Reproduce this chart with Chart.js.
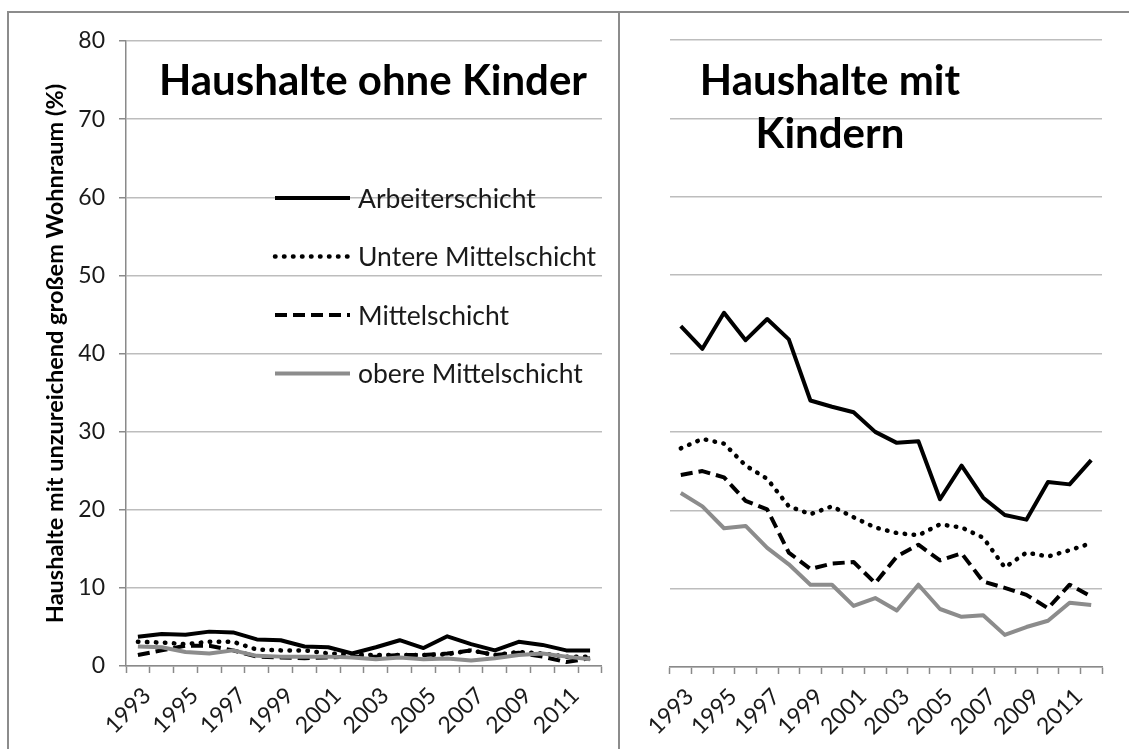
<!DOCTYPE html>
<html lang="de">
<head>
<meta charset="utf-8">
<title>Haushalte mit unzureichend großem Wohnraum</title>
<script src="https://cdn.jsdelivr.net/npm/chart.js@4.4.1/dist/chart.umd.min.js"></script>
<style>
  body { margin: 0; background: #fff; }
  #frame { position: relative; width: 1129px; height: 749px; overflow: hidden; background: #fff; }
  #frame canvas { position: absolute; }
  #frame .rule { position: absolute; background: #8c8c8c; }
</style>
</head>
<body>
<div id="frame">
  <canvas id="ohneChart" width="610" height="736" style="left:9px;top:13px"></canvas>
  <canvas id="mitChart" width="508" height="736" style="left:621px;top:13px"></canvas>
  <div class="rule" style="left:7px;top:11px;width:1122px;height:2px"></div>
  <div class="rule" style="left:7px;top:11px;width:2px;height:738px"></div>
  <div class="rule" style="left:618px;top:11px;width:2px;height:738px"></div>
</div>

<script>
// ======================================
// Data
// ======================================

const YEARS = [
  "1993", "1994", "1995", "1996", "1997", "1998", "1999", "2000", "2001", "2002",
  "2003", "2004", "2005", "2006", "2007", "2008", "2009", "2010", "2011", "2012",
];

const SERIES_NAMES = ["Arbeiterschicht", "Untere Mittelschicht", "Mittelschicht", "obere Mittelschicht"];

// Haushalte ohne Kinder
const OHNE_ARBEITER = [3.75, 4.1, 4.0, 4.4, 4.3, 3.4, 3.3, 2.5, 2.4, 1.6, 2.4, 3.3, 2.3, 3.8, 2.8, 2.0, 3.1, 2.7, 2.0, 2.0];
const OHNE_UNTERE = [3.1, 3.0, 2.8, 3.1, 3.1, 2.1, 2.0, 2.0, 1.6, 1.5, 1.4, 1.4, 1.4, 1.5, 2.0, 1.4, 1.8, 1.6, 1.2, 1.2];
const OHNE_MITTEL = [1.4, 2.0, 2.6, 2.6, 2.0, 1.2, 1.1, 1.0, 1.1, 1.2, 1.2, 1.4, 1.4, 1.6, 2.0, 1.4, 1.7, 1.2, 0.5, 1.0];
const OHNE_OBERE = [2.5, 2.4, 1.8, 1.6, 2.0, 1.3, 1.2, 1.2, 1.2, 1.1, 0.85, 1.1, 0.85, 0.95, 0.7, 1.0, 1.4, 1.6, 1.2, 0.85];

// Haushalte mit Kindern
const MIT_ARBEITER = [43.5, 40.6, 45.2, 41.7, 44.4, 41.8, 34.0, 33.2, 32.5, 30.0, 28.6, 28.8, 21.4, 25.7, 21.6, 19.4, 18.8, 23.6, 23.3, 26.4];
const MIT_UNTERE = [27.9, 29.1, 28.5, 25.7, 24.0, 20.5, 19.5, 20.5, 19.1, 17.8, 17.1, 16.8, 18.2, 17.8, 16.5, 12.7, 14.6, 14.1, 14.9, 15.8];
const MIT_MITTEL = [24.5, 25.0, 24.2, 21.2, 20.1, 14.6, 12.5, 13.2, 13.4, 10.7, 14.1, 15.6, 13.6, 14.5, 10.9, 10.1, 9.2, 7.5, 10.5, 9.0];
const MIT_OBERE = [22.2, 20.5, 17.7, 18.0, 15.2, 13.1, 10.5, 10.5, 7.8, 8.8, 7.2, 10.5, 7.4, 6.4, 6.6, 4.1, 5.1, 5.9, 8.2, 7.9];

const Y_MIN = 0;
const Y_MAX = 80;
const Y_STEP = 10;

const Y_TITLE = "Haushalte mit unzureichend großem Wohnraum (%)";
const TITLE_OHNE = ["Haushalte ohne Kinder"];
const TITLE_MIT = ["Haushalte mit", "Kindern"];

// ======================================
// Styles
// ======================================

const LINE_STYLES = [
  { borderColor: "#000000", borderWidth: 4, borderDash: [], borderCapStyle: "butt" },
  { borderColor: "#000000", borderWidth: 4.5, borderDash: [0.5, 8.5], borderCapStyle: "round" },
  { borderColor: "#000000", borderWidth: 4, borderDash: [12, 6], borderCapStyle: "butt" },
  { borderColor: "#8c8c8c", borderWidth: 4, borderDash: [], borderCapStyle: "butt" },
];

const GRID_COLOR = "#bdbdbd";
const AXIS_COLOR = "#8a8a8a";
const TEXT_COLOR = "#1a1a1a";
const TICK_FONT = { size: 23 };

Chart.defaults.font.family = "Lato";

// ======================================
// Panel text plugin (titles + legend)
// ======================================

const panelTextPlugin = {
  id: "panelText",

  afterDraw(chart, args, opts) {
    const ctx = chart.ctx;

    ctx.save();

    ctx.fillStyle = "#000";
    ctx.font = "bold 42px Lato";
    ctx.textAlign = "center";
    ctx.textBaseline = "alphabetic";

    opts.title.forEach((line, i) => {
      ctx.fillText(line, opts.titleX, opts.titleY + i * opts.titleGap);
    });

    if (opts.legend) {
      const lg = opts.legend;

      chart.data.datasets.forEach((ds, i) => {
        const y = lg.y + i * lg.gap;

        ctx.beginPath();
        ctx.strokeStyle = ds.borderColor;
        ctx.lineWidth = ds.borderWidth;
        ctx.lineCap = ds.borderCapStyle;
        ctx.setLineDash(ds.borderDash);
        ctx.moveTo(lg.x, y);
        ctx.lineTo(lg.x + lg.sample, y);
        ctx.stroke();

        ctx.setLineDash([]);
        ctx.fillStyle = TEXT_COLOR;
        ctx.font = "26.5px Lato";
        ctx.textAlign = "left";
        ctx.fillText(ds.label, lg.x + lg.sample + lg.textGap, y + 9.5);
      });
    }

    ctx.restore();
  },
};

// ======================================
// Charts Controller
// ======================================

const Charts = {
  buildDatasets(seriesList) {
    return seriesList.map((values, i) => ({
      label: SERIES_NAMES[i],
      data: values,
      ...LINE_STYLES[i],
      borderJoinStyle: "round",
      pointRadius: 0,
      tension: 0,
      fill: false,
      order: seriesList.length - i,
    }));
  },

  xScale(height) {
    return {
      offset: true,
      grid: {
        offset: true,
        drawOnChartArea: false,
        drawTicks: true,
        tickLength: 7,
        tickColor: AXIS_COLOR,
        tickWidth: 1.5,
      },
      border: { display: true, color: AXIS_COLOR, width: 1.5 },
      ticks: {
        autoSkip: false,
        minRotation: 45,
        maxRotation: 45,
        padding: 9,
        labelOffset: 9,
        color: TEXT_COLOR,
        font: TICK_FONT,
        callback: (value, index) => (index % 2 === 0 ? YEARS[index] : ""),
      },
      afterFit: (scale) => {
        scale.height = height;
      },
    };
  },

  renderOhne() {
    const canvas = document.getElementById("ohneChart");

    new Chart(canvas, {
      type: "line",
      data: {
        labels: YEARS,
        datasets: Charts.buildDatasets([OHNE_ARBEITER, OHNE_UNTERE, OHNE_MITTEL, OHNE_OBERE]),
      },
      options: {
        responsive: false,
        animation: false,
        layout: { padding: { top: 28, right: 16, bottom: 0, left: 0 } },
        plugins: {
          legend: { display: false },
          tooltip: { enabled: false },
          panelText: {
            title: TITLE_OHNE,
            titleX: 364,
            titleY: 82,
            titleGap: 53,
            legend: { x: 266, y: 185, gap: 58.5, sample: 75, textGap: 8 },
          },
        },
        scales: {
          x: Charts.xScale(83),
          y: {
            min: Y_MIN,
            max: Y_MAX,
            ticks: { stepSize: Y_STEP, padding: 14, color: TEXT_COLOR, font: TICK_FONT },
            grid: { color: GRID_COLOR, lineWidth: 1.5, tickLength: 7, tickColor: AXIS_COLOR },
            border: { display: true, color: AXIS_COLOR, width: 1.5 },
            title: {
              display: true,
              text: Y_TITLE,
              color: "#000",
              font: { size: 23.5, weight: "bold" },
              padding: { top: 32, bottom: 0 },
            },
            afterFit: (scale) => {
              scale.width = 117;
            },
          },
        },
      },
      plugins: [panelTextPlugin],
    });
  },

  renderMit() {
    const canvas = document.getElementById("mitChart");

    new Chart(canvas, {
      type: "line",
      data: {
        labels: YEARS,
        datasets: Charts.buildDatasets([MIT_ARBEITER, MIT_UNTERE, MIT_MITTEL, MIT_OBERE]),
      },
      options: {
        responsive: false,
        animation: false,
        layout: { padding: { top: 27, right: 27, bottom: 0, left: 0 } },
        plugins: {
          legend: { display: false },
          tooltip: { enabled: false },
          panelText: {
            title: TITLE_MIT,
            titleX: 209,
            titleY: 82,
            titleGap: 53,
            legend: null,
          },
        },
        scales: {
          x: Charts.xScale(82),
          y: {
            min: Y_MIN,
            max: Y_MAX,
            ticks: { display: false, stepSize: Y_STEP },
            grid: { color: GRID_COLOR, lineWidth: 1.5, drawTicks: false },
            border: { display: false },
            afterFit: (scale) => {
              scale.width = 49;
            },
          },
        },
      },
      plugins: [panelTextPlugin],
    });
  },

  renderAll() {
    Charts.renderOhne();

    Charts.renderMit();
  },
};

Charts.renderAll();
</script>
</body>
</html>
